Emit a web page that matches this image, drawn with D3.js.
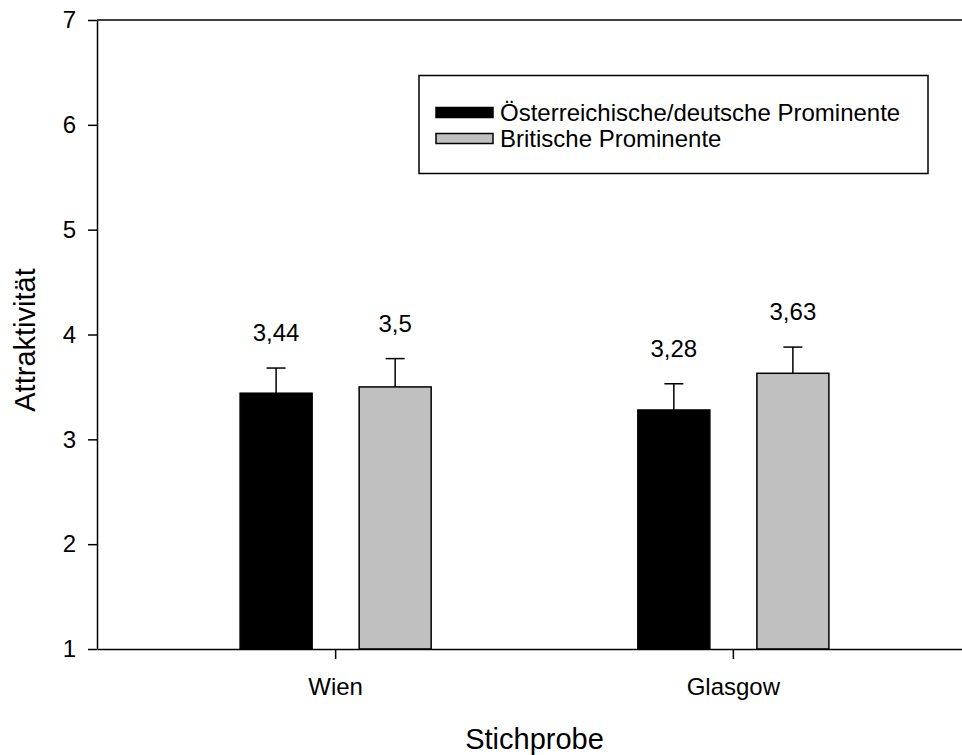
<!DOCTYPE html>
<html>
<head>
  <meta charset="utf-8">
  <title>Attraktivität nach Stichprobe</title>
  <style>
    body { margin: 0; background: #fff; }
    svg { display: block; font-family: "Liberation Sans", Arial, Helvetica, sans-serif; }
    .axis text { font-size: 24px; fill: #000; font-family: "Liberation Sans", Arial, sans-serif; }
    .axis path, .axis line { stroke: #000; stroke-width: 1.5px; }
  </style>
</head>
<body>
  <script src="https://cdn.jsdelivr.net/npm/d3@7/dist/d3.min.js"></script>
  <script>
    // data
    var samples = ["Wien", "Glasgow"];
    var groups = ["Österreichische/deutsche Prominente", "Britische Prominente"];
    var meansAT = [3.44, 3.28];   // black bars
    var meansGB = [3.5, 3.63];    // grey bars
    var errAT = [0.24, 0.25];
    var errGB = [0.27, 0.25];
    var meanLabelsAT = ["3,44", "3,28"];
    var meanLabelsGB = ["3,5", "3,63"];
    var yTicks = [1, 2, 3, 4, 5, 6, 7];
    var colors = ["#000000", "#c0c0c0"];

    var width = 962, height = 755;
    var marginLeft = 97, marginTop = 20;
    var plotW = 875, plotH = 629;

    var svg = d3.select("body").append("svg")
      .attr("width", width)
      .attr("height", height);

    var g = svg.append("g").attr("transform", "translate(" + marginLeft + "," + marginTop + ")");

    // scales
    var x0 = d3.scaleBand().domain(samples).range([0, plotW]).paddingInner(0).paddingOuter(0.1);
    var x1 = d3.scaleBand().domain([0, 1]).range([0, x0.bandwidth()]).paddingInner(0.395).paddingOuter(0.868);
    var y = d3.scaleLinear().domain([1, 7]).range([plotH, 0]);

    // build rows for drawing
    var rows = [];
    samples.forEach(function (s, i) {
      rows.push({ sample: s, k: 0, mean: meansAT[i], err: errAT[i], label: meanLabelsAT[i] });
      rows.push({ sample: s, k: 1, mean: meansGB[i], err: errGB[i], label: meanLabelsGB[i] });
    });

    function cx(d) { return x0(d.sample) + x1(d.k) + x1.bandwidth() / 2; }

    // error bars (upper only), drawn behind bars
    var eb = g.selectAll(".err").data(rows).enter().append("g").attr("class", "err");
    eb.append("line")
      .attr("x1", cx).attr("x2", cx)
      .attr("y1", function (d) { return y(d.mean); })
      .attr("y2", function (d) { return y(d.mean + d.err); })
      .attr("stroke", "#000").attr("stroke-width", 1.5);
    eb.append("line")
      .attr("x1", function (d) { return cx(d) - 9.5; })
      .attr("x2", function (d) { return cx(d) + 9.5; })
      .attr("y1", function (d) { return y(d.mean + d.err); })
      .attr("y2", function (d) { return y(d.mean + d.err); })
      .attr("stroke", "#000").attr("stroke-width", 1.5);

    // bars
    g.selectAll(".bar").data(rows).enter().append("rect")
      .attr("class", "bar")
      .attr("x", function (d) { return x0(d.sample) + x1(d.k); })
      .attr("width", x1.bandwidth())
      .attr("y", function (d) { return y(d.mean); })
      .attr("height", function (d) { return y(1) - y(d.mean); })
      .attr("fill", function (d) { return colors[d.k]; })
      .attr("stroke", "#000")
      .attr("stroke-width", 1.5);

    // value labels
    g.selectAll(".val").data(rows).enter().append("text")
      .attr("class", "val")
      .attr("x", cx)
      .attr("y", function (d) { return y(d.mean + d.err) - 27; })
      .attr("text-anchor", "middle")
      .style("font-size", "24px")
      .text(function (d) { return d.label; });

    // top frame line
    g.append("line")
      .attr("x1", 0).attr("x2", plotW)
      .attr("y1", 0).attr("y2", 0)
      .attr("stroke", "#000").attr("stroke-width", 1.5);

    // axes
    g.append("g")
      .attr("class", "axis")
      .call(d3.axisLeft(y).tickValues(yTicks).tickFormat(d3.format("d"))
        .tickSize(9).tickSizeOuter(0).tickPadding(12));

    g.append("g")
      .attr("class", "axis")
      .attr("transform", "translate(0," + plotH + ")")
      .call(d3.axisBottom(x0).tickSize(10).tickSizeOuter(0).tickPadding(19));

    // axis titles
    svg.append("text")
      .attr("text-anchor", "middle")
      .attr("x", marginLeft + plotW / 2)
      .attr("y", 749)
      .style("font-size", "29px")
      .text("Stichprobe");

    svg.append("text")
      .attr("text-anchor", "middle")
      .attr("transform", "translate(35,340) rotate(-90)")
      .style("font-size", "29px")
      .text("Attraktivität");

    // legend
    var lg = svg.append("g").attr("transform", "translate(419,75.5)");
    lg.append("rect")
      .attr("width", 509).attr("height", 98)
      .attr("fill", "#fff").attr("stroke", "#000").attr("stroke-width", 1.5);
    var items = lg.selectAll(".item").data(groups).enter().append("g")
      .attr("transform", function (d, i) { return "translate(17," + (32 + i * 26) + ")"; });
    items.append("rect")
      .attr("width", 57).attr("height", 10)
      .attr("fill", function (d, i) { return colors[i]; })
      .attr("stroke", "#000").attr("stroke-width", 1.5);
    items.append("text")
      .attr("x", 64).attr("y", 13.5)
      .style("font-size", "24px")
      .text(function (d) { return d; });
  </script>
</body>
</html>
